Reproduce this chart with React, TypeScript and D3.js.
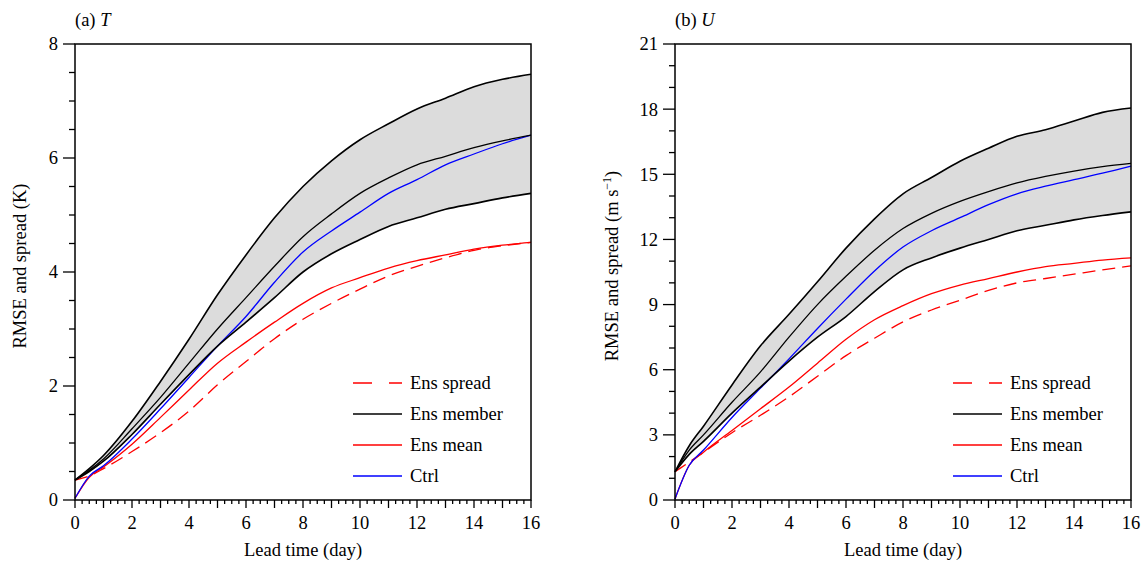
import React from "react";
import * as d3 from "d3";

// ---- Data ----
const days = [0, 0.5, 1, 2, 3, 4, 5, 6, 7, 8, 9, 10, 11, 12, 13, 14, 15, 16];

// Panel (a) T
const tUpper = [0.35, 0.55, 0.78, 1.38, 2.08, 2.82, 3.6, 4.3, 4.95, 5.5, 5.95, 6.32, 6.6, 6.86, 7.05, 7.25, 7.38, 7.47];
const tMember = [0.35, 0.52, 0.72, 1.25, 1.8, 2.4, 3.0, 3.55, 4.1, 4.62, 5.02, 5.38, 5.65, 5.88, 6.03, 6.18, 6.3, 6.4];
const tLower = [0.35, 0.5, 0.68, 1.15, 1.68, 2.2, 2.7, 3.12, 3.55, 4.0, 4.32, 4.57, 4.8, 4.95, 5.1, 5.2, 5.3, 5.38];
const tCtrl = [0.03, 0.42, 0.6, 1.07, 1.6, 2.15, 2.7, 3.22, 3.82, 4.35, 4.72, 5.05, 5.38, 5.62, 5.88, 6.07, 6.25, 6.4];
const tMean = [0.03, 0.4, 0.58, 0.98, 1.45, 1.93, 2.4, 2.77, 3.12, 3.45, 3.72, 3.9, 4.07, 4.2, 4.3, 4.4, 4.47, 4.52];
const tSpread = [0.35, 0.42, 0.55, 0.85, 1.18, 1.56, 2.02, 2.43, 2.83, 3.17, 3.45, 3.7, 3.93, 4.1, 4.25, 4.38, 4.46, 4.52];

// Panel (b) U
const uUpper = [1.3, 2.5, 3.4, 5.3, 7.1, 8.55, 10.05, 11.6, 12.95, 14.1, 14.85, 15.6, 16.2, 16.75, 17.05, 17.45, 17.85, 18.05];
const uMember = [1.3, 2.3, 3.0, 4.5, 5.9, 7.5, 9.0, 10.3, 11.5, 12.5, 13.2, 13.75, 14.2, 14.6, 14.9, 15.15, 15.35, 15.5];
const uLower = [1.3, 2.1, 2.7, 4.0, 5.2, 6.4, 7.5, 8.45, 9.6, 10.6, 11.15, 11.6, 12.0, 12.4, 12.65, 12.9, 13.1, 13.27];
const uCtrl = [0.05, 1.6, 2.3, 3.8, 5.15, 6.5, 7.9, 9.25, 10.55, 11.65, 12.4, 13.0, 13.6, 14.1, 14.45, 14.75, 15.05, 15.38];
const uMean = [0.05, 1.6, 2.2, 3.2, 4.2, 5.2, 6.3, 7.4, 8.3, 8.95, 9.5, 9.9, 10.2, 10.5, 10.75, 10.9, 11.05, 11.15];
const uSpread = [1.3, 1.75, 2.2, 3.1, 3.9, 4.75, 5.7, 6.65, 7.45, 8.2, 8.75, 9.2, 9.65, 10.0, 10.2, 10.4, 10.6, 10.78];

const xTickLabels = [0, 2, 4, 6, 8, 10, 12, 14, 16];
const tYTickLabels = [0, 2, 4, 6, 8];
const uYTickLabels = [0, 3, 6, 9, 12, 15, 18, 21];

const legendItems = [
  { label: "Ens spread", color: "#ff0000", dash: "19,17" },
  { label: "Ens member", color: "#000000", dash: null },
  { label: "Ens mean", color: "#ff0000", dash: null },
  { label: "Ctrl", color: "#0000ff", dash: null },
];

const FONT = "Liberation Serif, DejaVu Serif, Times New Roman, serif";

type PanelProps = {
  left: number;
  tag: string;
  varName: string;
  yMax: number;
  yTicks: number[];
  yMinorStep: number;
  yLabel: React.ReactNode;
  upper: number[];
  member: number[];
  lower: number[];
  ctrl: number[];
  mean: number[];
  spread: number[];
};

function Panel(p: PanelProps) {
  const top = 44;
  const bottom = 500;
  const width = 456;
  const x = d3.scaleLinear().domain([0, 16]).range([p.left, p.left + width]);
  const y = d3.scaleLinear().domain([0, p.yMax]).range([bottom, top]);

  const pts = (arr: number[]) => days.map((d, i) => [d, arr[i]] as [number, number]);
  const line = d3
    .line<[number, number]>()
    .x((d) => x(d[0]))
    .y((d) => y(d[1]))
    .curve(d3.curveMonotoneX);
  const area = d3
    .area<number>()
    .x((d) => x(d))
    .y0((_, i) => y(p.lower[i]))
    .y1((_, i) => y(p.upper[i]))
    .curve(d3.curveMonotoneX);

  const xMinor = d3.range(0, 16.001, 0.25);
  const yMinor = d3.range(0, p.yMax + 0.001, p.yMinorStep);
  const legX = p.left + 278;
  const legRows = [383, 414, 445, 476];

  return (
    <g fontFamily={FONT}>
      <defs>
        <clipPath id={"clip" + p.tag}>
          <rect x={p.left} y={top} width={width} height={bottom - top} />
        </clipPath>
      </defs>
      <g clipPath={`url(#clip${p.tag})`}>
        <path d={area(days) || ""} fill="#dcdcdc" stroke="none" />
        <path d={line(pts(p.spread)) || ""} fill="none" stroke="#ff0000" strokeWidth={1.3} strokeDasharray="13,7" />
        <path d={line(pts(p.mean)) || ""} fill="none" stroke="#ff0000" strokeWidth={1.3} />
        <path d={line(pts(p.ctrl)) || ""} fill="none" stroke="#0000ff" strokeWidth={1.3} />
        <path d={line(pts(p.upper)) || ""} fill="none" stroke="#000" strokeWidth={1.6} />
        <path d={line(pts(p.member)) || ""} fill="none" stroke="#000" strokeWidth={1.3} />
        <path d={line(pts(p.lower)) || ""} fill="none" stroke="#000" strokeWidth={1.6} />
      </g>
      {/* frame */}
      <rect x={p.left} y={top} width={width} height={bottom - top} fill="none" stroke="#000" strokeWidth={1.5} />
      {/* x ticks */}
      {xMinor.map((v) => {
        const major = Math.abs(v - Math.round(v)) < 1e-6;
        return (
          <line key={"xt" + v} x1={x(v)} x2={x(v)} y1={bottom} y2={bottom + (major ? 8 : 4)} stroke="#000" strokeWidth={1.3} />
        );
      })}
      {xTickLabels.map((v) => (
        <text key={"xl" + v} x={x(v)} y={529} textAnchor="middle" fontSize={18.5}>
          {v}
        </text>
      ))}
      <text x={p.left + width / 2} y={556} textAnchor="middle" fontSize={18.5}>
        Lead time (day)
      </text>
      {/* y ticks */}
      {yMinor.map((v) => {
        const major = p.yTicks.some((t) => Math.abs(t - v) < 1e-6);
        return (
          <line key={"yt" + v} x1={p.left - (major ? 12 : 6)} x2={p.left} y1={y(v)} y2={y(v)} stroke="#000" strokeWidth={1.3} />
        );
      })}
      {p.yTicks.map((v) => (
        <text key={"yl" + v} x={p.left - 17} y={y(v)} dy="0.35em" textAnchor="end" fontSize={18.5}>
          {v}
        </text>
      ))}
      {p.yLabel}
      {/* title */}
      <text x={p.left} y={26} fontSize={18.5}>
        {p.tag} <tspan fontStyle="italic">{p.varName}</tspan>
      </text>
      {/* legend */}
      {legendItems.map((it, i) => (
        <g key={it.label}>
          <line
            x1={legX}
            x2={legX + 49}
            y1={legRows[i]}
            y2={legRows[i]}
            stroke={it.color}
            strokeWidth={1.3}
            strokeDasharray={it.dash || undefined}
          />
          <text x={legX + 57} y={legRows[i]} dy="0.33em" fontSize={18.5}>
            {it.label}
          </text>
        </g>
      ))}
    </g>
  );
}

export default function App() {
  return (
    <svg width={1143} height={562} style={{ position: "absolute", left: 0, top: 0, background: "#fff" }}>
      <rect x={0} y={0} width={1143} height={562} fill="#fff" />
      <Panel
        left={75}
        tag="(a)"
        varName="T"
        yMax={8}
        yTicks={tYTickLabels}
        yMinorStep={0.5}
        yLabel={
          <text transform="translate(26,266) rotate(-90)" textAnchor="middle" fontSize={18.5}>
            RMSE and spread (K)
          </text>
        }
        upper={tUpper}
        member={tMember}
        lower={tLower}
        ctrl={tCtrl}
        mean={tMean}
        spread={tSpread}
      />
      <Panel
        left={675}
        tag="(b)"
        varName="U"
        yMax={21}
        yTicks={uYTickLabels}
        yMinorStep={1}
        yLabel={
          <text transform="translate(618,266) rotate(-90)" textAnchor="middle" fontSize={18.5}>
            RMSE and spread (m s<tspan fontSize={12} dy="-7">−1</tspan>
            <tspan dy="7">)</tspan>
          </text>
        }
        upper={uUpper}
        member={uMember}
        lower={uLower}
        ctrl={uCtrl}
        mean={uMean}
        spread={uSpread}
      />
    </svg>
  );
}
